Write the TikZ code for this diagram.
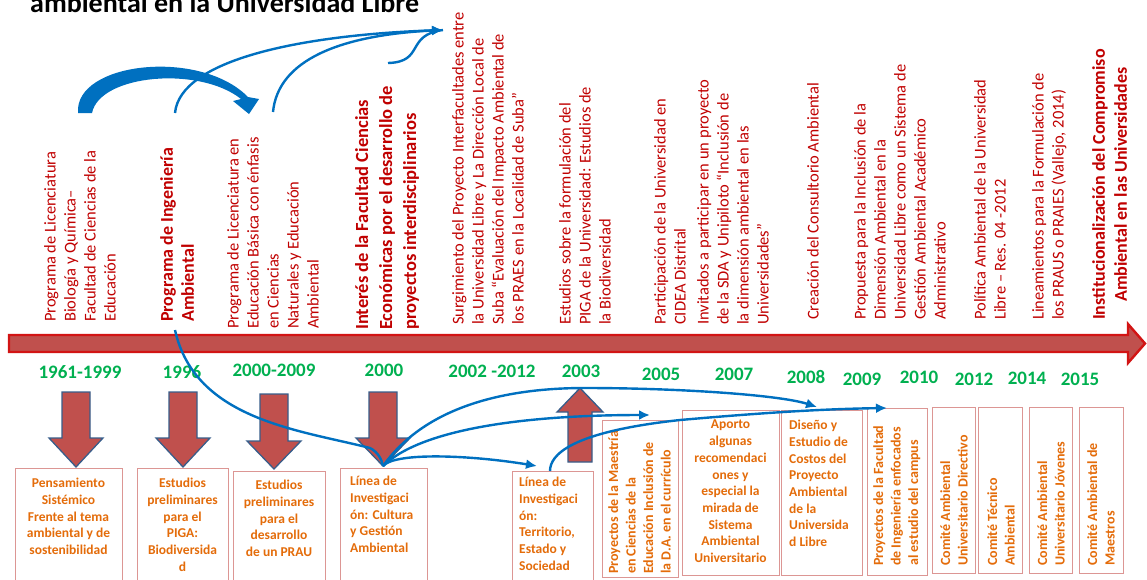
\documentclass[tikz,border=0pt]{standalone}
\usepackage{fontspec}
\setmainfont{Carlito}
\usetikzlibrary{arrows.meta}
\definecolor{redtxt}{RGB}{192,0,0}
\definecolor{yeargreen}{RGB}{0,176,80}
\definecolor{orangetxt}{RGB}{228,108,10}
\definecolor{arrowfill}{RGB}{192,80,77}
\definecolor{arrowedge}{RGB}{56,93,138}
\definecolor{lineblue}{RGB}{0,112,192}
\definecolor{boxedge}{RGB}{220,150,148}
\definecolor{tlborder}{RGB}{210,20,20}
\tikzset{
  rtxt/.style={rotate=90, anchor=north west, inner sep=0pt, align=left, text=redtxt,
    font=\fontsize{16.5}{20}\selectfont},
  rtxtb/.style={rtxt, font=\bfseries\fontsize{18}{21}\selectfont},
  yearlbl/.style={text=yeargreen, inner sep=0pt, font=\bfseries\fontsize{19}{22}\selectfont},
  evbox/.style={draw=boxedge, line width=1.3pt, fill=white, anchor=north west, inner sep=0pt},
  btxt/.style={text=orangetxt, inner sep=0pt, anchor=north, align=center,
    font=\bfseries\fontsize{13.5}{16.7}\selectfont},
  btxtl/.style={btxt, align=left, anchor=north west},
  brot/.style={rotate=90, anchor=north west, inner sep=0pt, align=left, text=orangetxt,
    font=\bfseries\fontsize{14}{17.5}\selectfont},
  timeline/.style={fill=arrowfill, draw=tlborder, line width=2.4pt, line join=miter},
  blockarrow/.style={fill=arrowfill, draw=arrowedge, line width=1.3pt, line join=miter},
  bline/.style={draw=lineblue, line width=2.4pt},
  btip/.style={-{Latex[length=11pt,width=10pt]}}
}
\begin{document}
\begin{tikzpicture}[x=1pt,y=-1pt]
\useasboundingbox (0,0) rectangle (1147,579);

% title (cut at the top)
\node[anchor=base west, inner sep=0pt, font=\bfseries\fontsize{28}{30}\selectfont] (title) at (30,12) {ambiental en la Universidad Libre};

% timeline
\draw[timeline] (9,335) -- (1128,335) -- (1128,324) -- (1145,343.5) -- (1128,363) -- (1128,352) -- (9,352) -- cycle;

% upper vertical texts
\node[rtxt] (t1) at (44,322) {Programa de Licenciatura\\Biología  y Química–\\Facultad de Ciencias de la\\Educación};
\node[rtxtb] (t2) at (160,322) {Programa  de Ingeniería\\Ambiental};
\node[rtxt] (t3) at (227,329) {Programa de Licenciatura en\\Educación Básica con énfasis\\en Ciencias\\Naturales y Educación\\Ambiental};
\node[rtxtb, font=\bfseries\fontsize{18.5}{24}\selectfont] (t4) at (355,330) {Interés de la Facultad Ciencias\\Económicas por el desarrollo de\\proyectos interdisciplinarios};
\node[rtxt] (t5) at (452,325) {Surgimiento del Proyecto Interfacultades entre\\la Universidad Libre y La Dirección Local de\\Suba “Evaluación del Impacto Ambiental de\\los PRAES en la Localidad de  Suba”};
\node[rtxt] (t6) at (559,325) {Estudios sobre la formulación del\\PIGA de la Universidad: Estudios de\\la Biodiversidad};
\node[rtxt] (t7) at (654,325) {Participación de la Universidad en\\CIDEA Distrital};
\node[rtxt] (t8) at (697,325) {Invitados a participar en un proyecto\\de la SDA y Unipiloto “Inclusión de\\la dimensión ambiental en las\\Universidades”};
\node[rtxt] (t9) at (807,320) {Creación del Consultorio Ambiental};
\node[rtxt] (t10) at (854,320) {Propuesta para la Inclusión de la\\Dimensión Ambiental en la\\Universidad Libre como un Sistema de\\Gestión Ambiental Académico\\Administrativo};
\node[rtxt] (t11) at (974,320) {Política Ambiental de la Universidad\\Libre – Res. 04 -2012};
\node[rtxt] (t12) at (1032,320) {Lineamientos para la Formulación de\\los PRAUS o PRAIES (Vallejo, 2014)};
\node[rtxtb, align=center, font=\bfseries\fontsize{18}{22}\selectfont] (t13) at (1092,320) {Institucionalización  del Compromiso\\Ambiental  en las Universidades};

% years
\node[yearlbl] (y1) at (80,372) {1961-1999};
\node[yearlbl] (y2) at (182,372) {1996};
\node[yearlbl] (y3) at (274,370) {2000-2009};
\node[yearlbl] (y4) at (384,370) {2000};
\node[yearlbl] (y5) at (492,371) {2002 -2012};
\node[yearlbl] (y6) at (581,371) {2003};
\node[yearlbl] (y7) at (661,374) {2005};
\node[yearlbl] (y8) at (734,374) {2007};
\node[yearlbl] (y9) at (806,377) {2008};
\node[yearlbl] (y10) at (862,379) {2009};
\node[yearlbl] (y11) at (919,377) {2010};
\node[yearlbl] (y12) at (974,379) {2012};
\node[yearlbl] (y13) at (1027,378) {2014};
\node[yearlbl] (y14) at (1080,379) {2015};

% block arrows
\draw[blockarrow] (62,392) -- (90,392) -- (90,438) -- (103,438) -- (76,467) -- (49,438) -- (62,438) -- cycle;
\draw[blockarrow] (169,392) -- (197,392) -- (197,438) -- (210,438) -- (183,467) -- (156,438) -- (169,438) -- cycle;
\draw[blockarrow] (260,394) -- (288,394) -- (288,441) -- (301,441) -- (274,469) -- (247,441) -- (260,441) -- cycle;
\draw[blockarrow] (369,392) -- (397,392) -- (397,438) -- (410,438) -- (383,466) -- (356,438) -- (369,438) -- cycle;
\draw[blockarrow] (568,462) -- (592,462) -- (592,412) -- (603,412) -- (580,388) -- (557,412) -- (568,412) -- cycle;

% boxes
\node[evbox, minimum width=107pt, minimum height=125pt] (b1) at (15,468) {};
\node[evbox, minimum width=91pt, minimum height=125pt] (b2) at (137,468) {};
\node[evbox, minimum width=92pt, minimum height=125pt] (b3) at (233,471) {};
\node[evbox, minimum width=87pt, minimum height=125pt] (b4) at (340,468) {};
\node[evbox, minimum width=81pt, minimum height=125pt] (b5) at (512,471) {};
\node[evbox, minimum width=76pt, minimum height=157pt] (b6) at (602,420) {};
\node[evbox, minimum width=97pt, minimum height=165pt] (b7) at (682,410) {};
\node[evbox, minimum width=81pt, minimum height=165pt] (b8) at (781,410) {};
\node[evbox, minimum width=60pt, minimum height=167pt] (b9) at (867,408) {};
\node[evbox, minimum width=43pt, minimum height=166pt] (b10) at (932,407) {};
\node[evbox, minimum width=44pt, minimum height=166pt] (b11) at (978,407) {};
\node[evbox, minimum width=43pt, minimum height=166pt] (b12) at (1029,407) {};
\node[evbox, minimum width=44pt, minimum height=166pt] (b13) at (1079,407) {};

% box texts
\node[btxt] (bt1) at (68.5,478) {Pensamiento\\Sistémico\\Frente al tema\\ambiental y de\\sostenibilidad};
\node[btxt] (bt2) at (182.5,478) {Estudios\\preliminares\\para el\\PIGA:\\Biodiversida\\d};
\node[btxt] (bt3) at (279,480) {Estudios\\preliminares\\para el\\desarrollo\\de un PRAU};
\node[btxtl] (bt4) at (350,476) {Línea de\\Investigaci\\ón: Cultura\\y Gestión\\Ambiental};
\node[btxtl] (bt5) at (519,477) {Línea de\\Investigaci\\ón:\\Territorio,\\Estado y\\Sociedad};
\node[brot] (bt6) at (608,574) {Proyectos de la Maestría\\en Ciencias de la\\Educación Inclusión de\\la D.A. en el currículo};
\node[btxt] (bt7) at (730.5,420) {Aporto\\algunas\\recomendaci\\ones y\\especial la\\mirada de\\Sistema\\Ambiental\\Universitario};
\node[btxtl] (bt8) at (789,420) {Diseño y\\Estudio de\\Costos del\\Proyecto\\Ambiental\\de la\\Universida\\d Libre};
\node[brot] (bt9) at (873,566) {Proyectos de la Facultad\\de Ingeniería enfocados\\al estudio del campus};
\node[brot] (bt10) at (940,566) {Comité Ambiental\\Universitario Directivo};
\node[brot] (bt11) at (987,566) {Comité Técnico\\Ambiental};
\node[brot] (bt12) at (1037,566) {Comité Ambiental\\Universitario Jóvenes};
\node[brot] (bt13) at (1087,566) {Comité Ambiental de\\Maestros};

% blue connectors
\coordinate (s1) at (78,113);
\coordinate (s2) at (175,113);
\coordinate (s3) at (273,112);
\coordinate (s4) at (388,63);
\coordinate (hub) at (443,30);
\coordinate (s5) at (175,330);
\coordinate (tip4) at (383,466);
\coordinate (e1) at (537,466);
\coordinate (e2) at (650,415);
\coordinate (e3) at (817,407);
\coordinate (s6) at (550,471);
\coordinate (e4) at (887,408);

\fill[lineblue] (s1) .. controls (74,62) and (200,48) .. (248,97) -- (259,99) -- (249,114) -- (233,101) -- (241,99) .. controls (200,66) and (100,74) .. (92,113) -- cycle;
\draw[bline, btip] (s2) .. controls (180,60) and (300,35) .. (hub);
\draw[bline, btip] (s3) .. controls (278,60) and (340,35) .. (hub);
\draw[bline] (s4) .. controls (425,62) and (405,35) .. (hub);

\draw[bline] (s5) .. controls (195,420) and (300,430) .. (370,448) .. controls (378,452) and (382,460) .. (tip4);
\draw[bline, btip] (tip4) .. controls (395,452) and (470,455) .. (e1);
\draw[bline, btip] (tip4) .. controls (420,430) and (520,415) .. (e2);
\draw[bline, btip] (tip4) .. controls (430,400) and (520,388) .. (585,388) .. controls (680,388) and (780,395) .. (e3);
\draw[bline, btip] (s6) .. controls (550,455) and (570,432) .. (680,420) .. controls (760,413) and (820,409) .. (e4);
\end{tikzpicture}
\end{document}
